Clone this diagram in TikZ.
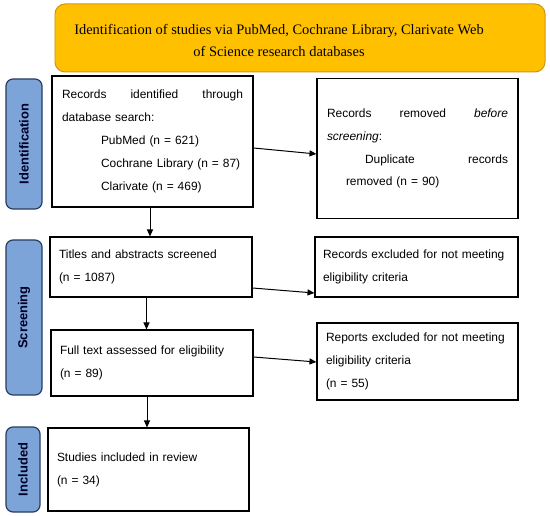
\documentclass[tikz,border=0pt]{standalone}
\usepackage{fontspec}
\setmainfont{Liberation Serif}
\setsansfont{Liberation Sans}
\usepackage{xcolor}
\usetikzlibrary{arrows.meta}

\definecolor{bannerfill}{RGB}{255,192,0}
\definecolor{bannerdraw}{RGB}{205,150,20}
\definecolor{tabfill}{RGB}{124,164,216}
\definecolor{tabdraw}{RGB}{40,62,96}

\tikzset{
  flowbox/.style={draw, line width=1.1pt, fill=white, align=left, inner sep=0pt,
    font=\sffamily\fontsize{12}{23}\selectfont, anchor=center},
  phasetab/.style={draw=tabdraw, line width=1.2pt, fill=tabfill, rounded corners=7bp, inner sep=0pt},
  tablabel/.style={rotate=90, font=\sffamily\bfseries\fontsize{13}{15}\selectfont, text=black!85!blue},
  flowarrow/.style={line width=1pt, -{Triangle[length=7pt,width=6pt]}}
}

\begin{document}
\begin{tikzpicture}[x=1bp, y=-1bp]
\useasboundingbox (0,0) rectangle (550,516);

% banner
\node[draw=bannerdraw, line width=1pt, fill=bannerfill, rounded corners=10bp,
  minimum width=490bp, minimum height=68bp] (banner) at (300,38) {};
\node[align=center, font=\fontsize{14.5}{23}\selectfont] (bannertext) at (279,40.5)
  {Identification of studies via PubMed, Cochrane Library, Clarivate Web\\
   of Science research databases};

% phase tabs
\node[phasetab, minimum width=36bp, minimum height=130bp] (tabid) at (24,144) {};
\node[tablabel] at (tabid) {Identification};
\node[phasetab, minimum width=36bp, minimum height=155bp] (tabscr) at (24,317.5) {};
\node[tablabel] at (tabscr) {Screening};
\node[phasetab, minimum width=34bp, minimum height=85bp] (tabinc) at (23,469.5) {};
\node[tablabel] at (tabinc) {Included};

% left column
\node[flowbox, minimum width=201bp, minimum height=131bp, text width=181bp] (recid) at (152.5,141.5)
  {Records\hfill identified\hfill through\\
   database search:\\
   \hspace*{39bp}PubMed (n = 621)\\
   \hspace*{39bp}Cochrane Library (n = 87)\\
   \hspace*{39bp}Clarivate (n = 469)};
\node[flowbox, minimum width=202bp, minimum height=60bp, text width=184bp] (titles) at (151,267)
  {Titles and abstracts screened\\
   (n = 1087)};
\node[flowbox, minimum width=202bp, minimum height=66bp, text width=184bp] (fulltext) at (152,363)
  {Full text assessed for eligibility\\
   (n = 89)};
\node[flowbox, minimum width=201bp, minimum height=83bp, text width=183bp] (incl) at (148.5,469.5)
  {Studies included in review\\
   (n = 34)};

% right column
\node[flowbox, minimum width=201bp, minimum height=140bp, text width=181bp] (dupl) at (417.5,148.5)
  {Records\hfill removed\hfill \textit{before}\\
   \textit{screening}:\\
   \hspace*{38bp}Duplicate\hfill records\\
   \hspace*{19bp}removed (n = 90)};
\node[flowbox, minimum width=203bp, minimum height=60bp, text width=187bp] (recexc) at (416.5,267)
  {Records excluded for not meeting\\
   eligibility criteria};
\node[flowbox, minimum width=201bp, minimum height=77bp, text width=183bp] (repexc) at (417.5,361.5)
  {Reports excluded for not meeting\\
   eligibility criteria\\
   (n = 55)};

% arrows
\draw[flowarrow] ([yshift=-6.5bp]recid.east) -- ([yshift=-5.5bp]dupl.west);
\draw[flowarrow] ([xshift=-2.5bp]recid.south) -- ([xshift=-2.5bp]recid.south |- titles.north);
\draw[flowarrow] ([yshift=-21bp]titles.east) -- ([yshift=-26bp]recexc.west);
\draw[flowarrow] ([xshift=-4.5bp]titles.south) -- ([xshift=-4.5bp]titles.south |- fulltext.north);
\draw[flowarrow] ([yshift=6bp]fulltext.east) -- ([yshift=-0.5bp]repexc.west);
\draw[flowarrow] ([xshift=-5bp]fulltext.south) -- ([xshift=-5bp]fulltext.south |- incl.north);
\end{tikzpicture}
\end{document}
